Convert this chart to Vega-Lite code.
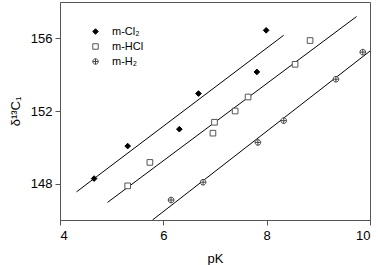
{
  "$schema": "https://vega.github.io/schema/vega-lite/v6.json",
  "width": 310,
  "height": 218,
  "autosize": {"type": "none"},
  "padding": {"left": 60, "top": 2, "right": 8, "bottom": 45},
  "config": {
    "font": "Liberation Sans",
    "view": {"stroke": "#555", "strokeWidth": 1},
    "axis": {
      "grid": false,
      "domainColor": "#555",
      "tickColor": "#555",
      "tickSize": 5,
      "labelColor": "#000",
      "labelFontSize": 13,
      "titleFontSize": 13,
      "titleColor": "#000",
      "titleFontWeight": "normal"
    }
  },
  "datasets": {
    "points": [
      {"series": "m-Cl₂", "pK": 4.66, "d13C": 148.28},
      {"series": "m-Cl₂", "pK": 5.31, "d13C": 150.07},
      {"series": "m-Cl₂", "pK": 6.31, "d13C": 151.0},
      {"series": "m-Cl₂", "pK": 6.68, "d13C": 152.96},
      {"series": "m-Cl₂", "pK": 7.81, "d13C": 154.15},
      {"series": "m-Cl₂", "pK": 7.99, "d13C": 156.44},
      {"series": "m-HCl", "pK": 5.31, "d13C": 147.88},
      {"series": "m-HCl", "pK": 5.74, "d13C": 149.17},
      {"series": "m-HCl", "pK": 6.96, "d13C": 150.78},
      {"series": "m-HCl", "pK": 6.99, "d13C": 151.38},
      {"series": "m-HCl", "pK": 7.39, "d13C": 152.0},
      {"series": "m-HCl", "pK": 7.64, "d13C": 152.77},
      {"series": "m-HCl", "pK": 8.55, "d13C": 154.57},
      {"series": "m-HCl", "pK": 8.84, "d13C": 155.88},
      {"series": "m-H₂", "pK": 6.15, "d13C": 147.1},
      {"series": "m-H₂", "pK": 6.77, "d13C": 148.08},
      {"series": "m-H₂", "pK": 7.83, "d13C": 150.27},
      {"series": "m-H₂", "pK": 8.33, "d13C": 151.47},
      {"series": "m-H₂", "pK": 9.34, "d13C": 153.75},
      {"series": "m-H₂", "pK": 9.86, "d13C": 155.24}
    ],
    "fits": [
      {"series": "m-Cl₂", "pK": 4.32, "d13C": 147.55},
      {"series": "m-Cl₂", "pK": 8.33, "d13C": 156.17},
      {"series": "m-HCl", "pK": 4.92, "d13C": 146.97},
      {"series": "m-HCl", "pK": 9.74, "d13C": 157.2},
      {"series": "m-H₂", "pK": 5.79, "d13C": 146.0},
      {"series": "m-H₂", "pK": 10.0, "d13C": 155.3}
    ]
  },
  "layer": [
    {
      "data": {"name": "fits"},
      "mark": {"type": "line", "color": "#000", "strokeWidth": 1, "clip": true},
      "encoding": {
        "x": {"field": "pK", "type": "quantitative", "scale": {"domain": [4, 10]}},
        "y": {"field": "d13C", "type": "quantitative", "scale": {"domain": [146, 158]}},
        "detail": {"field": "series"}
      }
    },
    {
      "data": {"name": "points"},
      "mark": {"type": "point", "filled": false, "strokeWidth": 1, "opacity": 1},
      "encoding": {
        "x": {
          "field": "pK", "type": "quantitative",
          "scale": {"domain": [4, 10], "nice": false},
          "axis": {"values": [4, 6, 8, 10], "title": "pK", "titlePadding": 10, "labelPadding": 4}
        },
        "y": {
          "field": "d13C", "type": "quantitative",
          "scale": {"domain": [146, 158], "nice": false, "zero": false},
          "axis": {"values": [148, 152, 156], "title": "δ¹³C₁", "titlePadding": 8, "labelPadding": 3}
        },
        "shape": {
          "field": "series", "type": "nominal",
          "scale": {
            "domain": ["m-Cl₂", "m-HCl", "m-H₂"],
            "range": ["diamond", "square", "M -1 0 A 1 1 0 1 0 1 0 A 1 1 0 1 0 -1 0 Z M -1 0 L 1 0 M 0 -1 L 0 1"]
          },
          "legend": {
            "title": null,
            "orient": "none",
            "legendX": 30,
            "legendY": 24,
            "padding": 0,
            "labelFontSize": 11,
            "labelColor": "#000",
            "symbolSize": 30,
            "rowPadding": 3,
            "labelOffset": 11,
            "symbolStrokeWidth": 1
          }
        },
        "color": {
          "field": "series", "type": "nominal",
          "scale": {"domain": ["m-Cl₂", "m-HCl", "m-H₂"], "range": ["#000", "#555", "#444"]}
        },
        "fill": {
          "field": "series", "type": "nominal",
          "scale": {"domain": ["m-Cl₂", "m-HCl", "m-H₂"], "range": ["#000", "#fff", "#fff"]}
        },
        "size": {"value": 32}
      }
    }
  ]
}
